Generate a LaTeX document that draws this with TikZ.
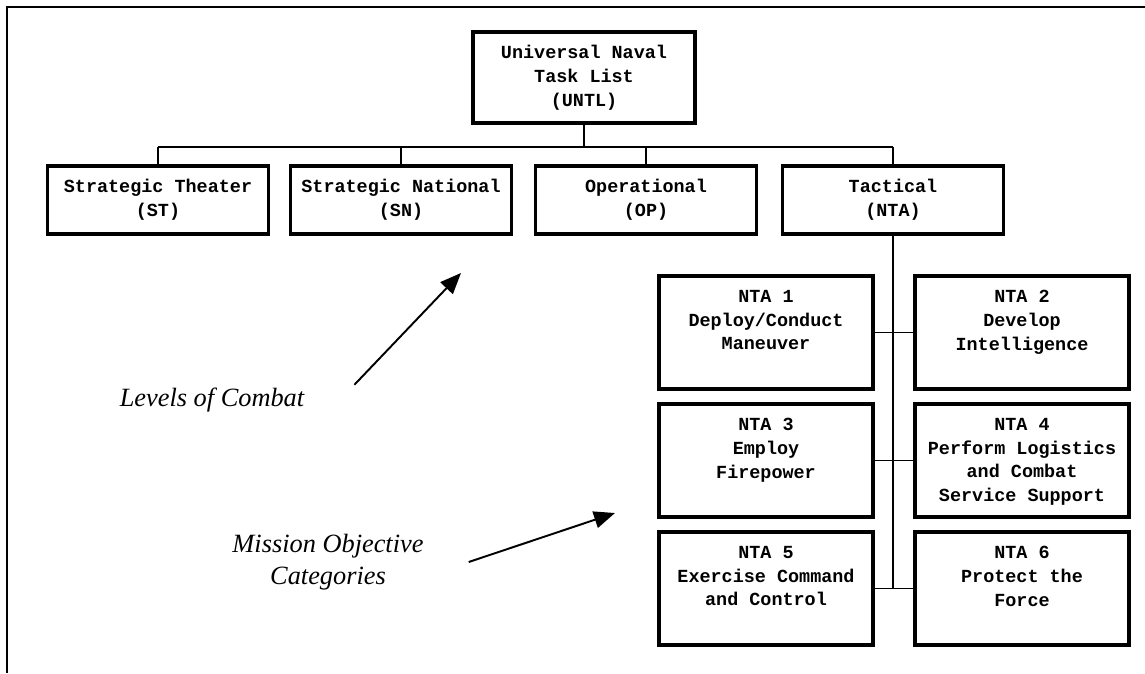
\documentclass[tikz,border=0pt]{standalone}
\usepackage{fontspec}
\setmainfont{Liberation Serif}
\newfontfamily\courfont{Liberation Mono}
\usetikzlibrary{arrows.meta}

% text of a task box, set from the top
\newcommand{\tasktext}[1]{\parbox[c][1.7cm][t]{4.2cm}{\centering #1}}

\tikzset{
  box/.style={draw, line width=1.9pt, align=center, inner sep=0pt,
    font=\courfont\bfseries\fontsize{10.5}{13.6}\selectfont},
  levelbox/.style={box, minimum width=4.42cm, minimum height=1.36cm},
  taskbox/.style={box, minimum width=4.28cm, minimum height=2.26cm},
  link/.style={line width=0.8pt},
  note/.style={align=center, font=\itshape\fontsize{15}{18.5}\selectfont},
  pointer/.style={line width=1.1pt, -{Triangle[length=0.42cm,width=0.34cm]}}
}

\begin{document}
\begin{tikzpicture}[x=0.02cm, y=-0.02cm]
\useasboundingbox (0,0) rectangle (1145,673);
\draw[line width=1.3pt] (1145,7)--(7,7)--(7,673);

\node[box, minimum width=4.44cm, minimum height=1.82cm] (untl) at (584,77.5) {Universal Naval\\Task List\\(UNTL)};
\coordinate (bus) at (0,147);

\foreach \x/\n/\a/\b in {158/st/Strategic Theater/(ST), 401/sn/Strategic National/(SN), 646/op/Operational/(OP), 893/nta/Tactical/(NTA)}{
\node[levelbox] (\n) at (\x,200) {\a\\\b};
\draw[link] (\n.north)--(\n.north |- bus);
}
\draw[link] (untl.south)--(untl.south |- bus);
\draw[link] (st.north |- bus)--(nta.north |- bus);

% NTA tasks
\node[taskbox] (nta1) at (766,332.5) {\tasktext{NTA 1\\Deploy/Conduct\\Maneuver}};
\node[taskbox] (nta2) at (1022,332.5) {\tasktext{NTA 2\\Develop\\Intelligence}};
\node[taskbox] (nta3) at (766,460.5) {\tasktext{NTA 3\\Employ\\Firepower}};
\node[taskbox] (nta4) at (1022,460.5) {\tasktext{NTA 4\\Perform Logistics\\and Combat\\Service Support}};
\node[taskbox] (nta5) at (766,588.5) {\tasktext{NTA 5\\Exercise Command\\and Control}};
\node[taskbox] (nta6) at (1022,588.5) {\tasktext{NTA 6\\Protect the\\Force}};
\draw[link] (nta.south)--(nta.south |- nta5.east);
\foreach \i/\j in {1/2,3/4,5/6}{
\draw[link] (nta\i.east)--(nta\j.west);
}

\node[note] (loc) at (212,400) {Levels of Combat};
\node[note] (moc) at (328,562) {Mission Objective\\Categories};
\coordinate (loc-tip) at (461,273);
\coordinate (moc-tip) at (615,513);
\draw[pointer] ([xshift=0.88cm,yshift=-0.06cm]loc.north east)--(loc-tip);
\draw[pointer] ([xshift=0.78cm]moc.east)--(moc-tip);
\end{tikzpicture}
\end{document}
